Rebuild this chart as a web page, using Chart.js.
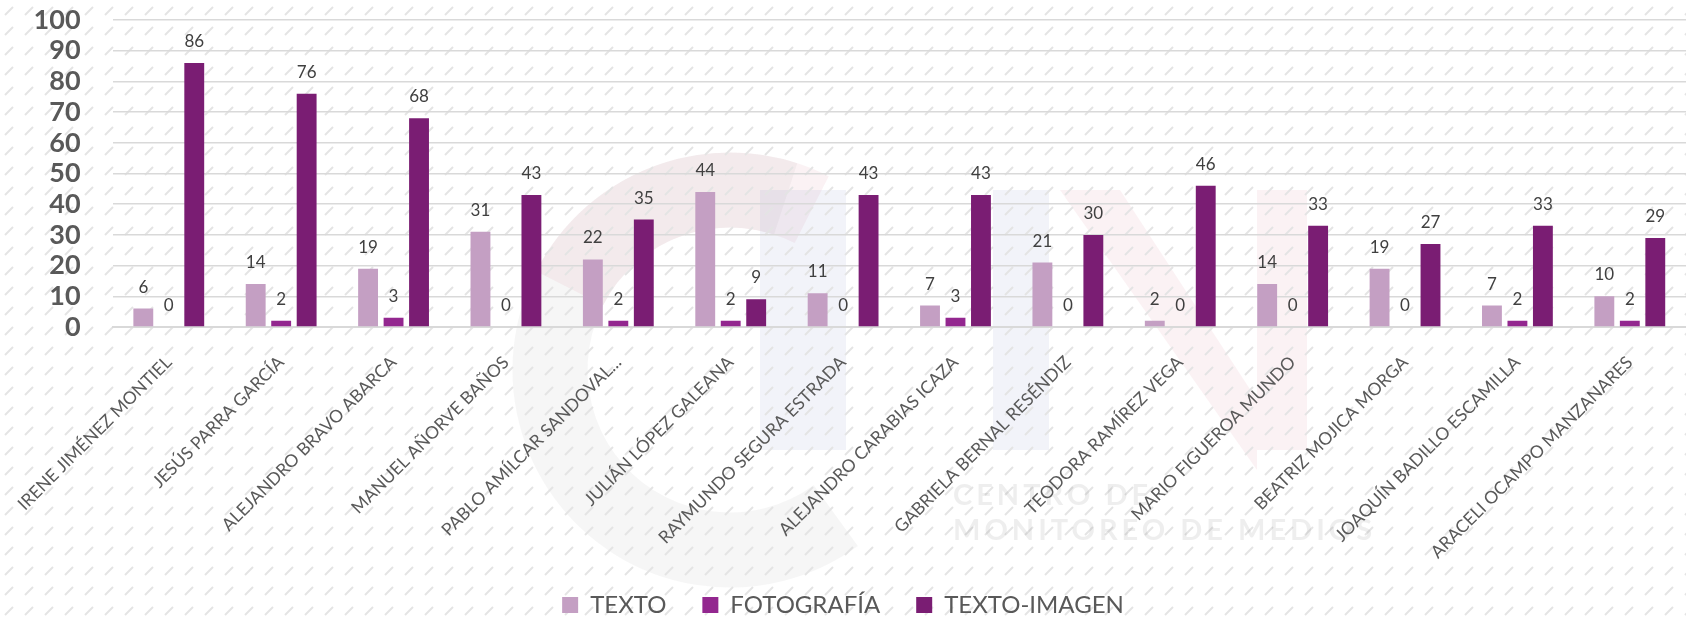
<!DOCTYPE html>
<html>
<head>
<meta charset="utf-8">
<script src="https://cdn.jsdelivr.net/npm/chart.js@4"></script>
<style>
  html, body { margin: 0; padding: 0; background: #ffffff; }
  #wrap { width: 1686px; height: 617px; }
</style>
</head>
<body>
<div id="wrap"><canvas id="grafico"></canvas></div>
<script>
// datos
const nombres = [
  'IRENE JIMÉNEZ MONTIEL', 'JESÚS PARRA GARCÍA', 'ALEJANDRO BRAVO ABARCA',
  'MANUEL AÑORVE BAÑOS', 'PABLO AMÍLCAR SANDOVAL...', 'JULIÁN LÓPEZ GALEANA',
  'RAYMUNDO SEGURA ESTRADA', 'ALEJANDRO CARABIAS ICAZA', 'GABRIELA BERNAL RESÉNDIZ',
  'TEODORA RAMÍREZ VEGA', 'MARIO FIGUEROA MUNDO', 'BEATRIZ MOJICA MORGA',
  'JOAQUÍN BADILLO ESCAMILLA', 'ARACELI OCAMPO MANZANARES'
];
const texto = [6, 14, 19, 31, 22, 44, 11, 7, 21, 2, 14, 19, 7, 10];
const fotografia = [0, 2, 3, 0, 2, 2, 0, 3, 0, 0, 0, 0, 2, 2];
const textoImagen = [86, 76, 68, 43, 35, 9, 43, 43, 30, 46, 33, 27, 33, 29];
const ticksY = [0, 10, 20, 30, 40, 50, 60, 70, 80, 90, 100];

// fondo rayado y marca de agua (logo tenue)
const fondo = {
  id: 'fondo',
  beforeDraw(chart) {
    const c = chart.ctx;
    const tile = document.createElement('canvas');
    tile.width = 20; tile.height = 20;
    const t = tile.getContext('2d');
    t.strokeStyle = '#e4e4e4';
    t.lineWidth = 2;
    t.beginPath();
    t.moveTo(5, 15); t.lineTo(13, 7);
    t.stroke();
    c.save();
    c.fillStyle = '#ffffff';
    c.fillRect(0, 0, chart.width, chart.height);

    // la "C" del logo
    c.lineWidth = 75;
    c.strokeStyle = 'rgba(170,170,170,0.10)';
    c.beginPath();
    c.arc(730, 370, 180, Math.PI * 0.3, Math.PI * 1.6);
    c.stroke();
    c.strokeStyle = 'rgba(225,150,165,0.12)';
    c.beginPath();
    c.arc(730, 370, 180, Math.PI * 1.15, Math.PI * 1.65);
    c.stroke();
    // la "M" del logo
    c.fillStyle = 'rgba(150,160,205,0.12)';
    c.fillRect(760, 190, 86, 260);
    c.fillRect(993, 190, 56, 260);
    c.fillStyle = 'rgba(225,150,165,0.12)';
    c.fillRect(1257, 190, 50, 260);
    c.beginPath();
    c.moveTo(1060, 190); c.lineTo(1120, 190); c.lineTo(1257, 400); c.lineTo(1257, 470);
    c.closePath();
    c.fill();

    c.fillStyle = c.createPattern(tile, 'repeat');
    c.fillRect(0, 0, chart.width, chart.height);
    c.font = 'bold 29px Lato';
    c.letterSpacing = '4px';
    c.fillStyle = 'rgba(120,120,120,0.13)';
    c.fillText('CENTRO DE', 953, 496);
    c.fillText('MONITOREO DE MEDIOS', 953, 531);
    c.restore();
  }
};

// etiquetas de valor encima de cada barra
const etiquetas = {
  id: 'etiquetas',
  afterDatasetsDraw(chart) {
    const c = chart.ctx;
    c.save();
    c.font = '17px Lato';
    c.fillStyle = '#404040';
    c.textAlign = 'center';
    c.textBaseline = 'alphabetic';
    chart.data.datasets.forEach((ds, i) => {
      chart.getDatasetMeta(i).data.forEach((bar, j) => {
        c.fillText(ds.data[j], bar.x, bar.y - 16);
      });
    });
    c.restore();
  }
};

new Chart(document.getElementById('grafico'), {
  type: 'bar',
  data: {
    labels: nombres,
    datasets: [
      { label: 'TEXTO', data: texto, backgroundColor: '#c49fc3' },
      { label: 'FOTOGRAFÍA', data: fotografia, backgroundColor: '#93278f' },
      { label: 'TEXTO-IMAGEN', data: textoImagen, backgroundColor: '#7a1d73' }
    ]
  },
  options: {
    responsive: true,
    maintainAspectRatio: false,
    animation: false,
    categoryPercentage: 0.68,
    barPercentage: 0.78,
    layout: { padding: { top: 20, right: 0, bottom: -10, left: 0 } },
    plugins: {
      legend: {
        position: 'bottom',
        labels: {
          boxWidth: 16, boxHeight: 16,
          padding: 36,
          color: '#595959',
          font: { size: 24, family: 'Lato' }
        }
      },
      tooltip: { enabled: false }
    },
    scales: {
      y: {
        min: 0, max: 100,
        afterBuildTicks(scale) { scale.ticks = ticksY.map(v => ({ value: v })); },
        afterFit(scale) {
          scale.width = 112;
          scale.paddingTop = 0;
          scale.paddingBottom = 0;
        },
        border: { display: false },
        grid: { color: '#d9d9d9', lineWidth: 1.5, drawTicks: false },
        ticks: {
          autoSkip: false,
          padding: 32,
          color: '#595959',
          font: { size: 27, weight: 'bold', family: 'Lato' }
        }
      },
      x: {
        afterFit(scale) {
          scale.height = 230;
          // las etiquetas largas bajan hasta la leyenda, sin recortar
          scale._computeLabelArea = () => undefined;
        },
        border: { color: '#d9d9d9', width: 2 },
        grid: { display: false },
        ticks: {
          autoSkip: false,
          minRotation: 45, maxRotation: 45,
          padding: 17,
          color: '#595959',
          font: { size: 17.5, family: 'Lato' }
        }
      }
    }
  },
  plugins: [fondo, etiquetas]
});
</script>
</body>
</html>
